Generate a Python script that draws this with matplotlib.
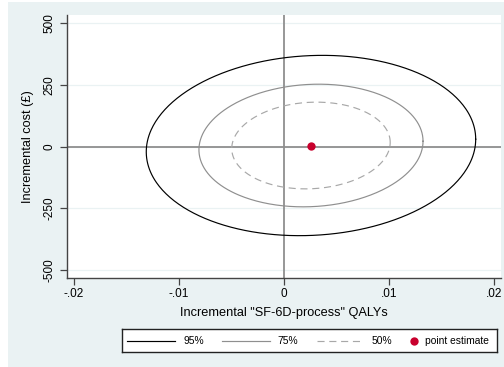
import numpy as np
import matplotlib
matplotlib.use("Agg")
import matplotlib.pyplot as plt
from matplotlib.patches import Rectangle

plt.rcParams['font.family'] = ['Liberation Sans', 'DejaVu Sans']

# bootstrap joint distribution of incremental QALYs and costs
mean_qaly = 0.00257
mean_cost = 4.0
sd_qaly = 0.00641
sd_cost = 149.0
rho = 0.07

levels = [0.95, 0.75, 0.50]
level_labels = ["95%", "75%", "50%"]
level_colors = ["black", "#8f8f8f", "#a8a8a8"]
level_styles = ["-", "-", (0, (6, 4))]

xticks = [-0.02, -0.01, 0, 0.01, 0.02]
xtick_labels = ["-.02", "-.01", "0", ".01", ".02"]
yticks = [-500, -250, 0, 250, 500]

BG = "#eaf2f3"
W, H = 504, 367

fig = plt.figure(figsize=(W / 100, H / 100), dpi=100)
fig.patch.set_facecolor("white")
fig.patches.append(Rectangle((8 / W, 0), 1, (H - 2) / H, transform=fig.transFigure,
                             facecolor=BG, edgecolor="none", zorder=-10))

ax = fig.add_axes([67 / W, (H - 278) / H, (501 - 67) / W, (278 - 15) / H])
ax.set_facecolor("white")

# confidence ellipses from the covariance matrix, radius from chi2(2) quantile
cov = np.array([[sd_qaly ** 2, rho * sd_qaly * sd_cost],
                [rho * sd_qaly * sd_cost, sd_cost ** 2]])
L = np.linalg.cholesky(cov)
t = np.linspace(0, 2 * np.pi, 400)
circle = np.vstack([np.cos(t), np.sin(t)])

for p, lab, col, ls in zip(levels, level_labels, level_colors, level_styles):
    r = np.sqrt(-2 * np.log(1 - p))
    pts = L @ (circle * r)
    ax.plot(mean_qaly + pts[0], mean_cost + pts[1], color=col, ls=ls, lw=0.85, zorder=3)

ax.axhline(0, color="#8f8f8f", lw=1.3, zorder=2)
ax.axvline(0, color="#8f8f8f", lw=1.3, zorder=2)
ax.plot([mean_qaly], [mean_cost], "o", color="#c8002d", ms=6, mec="none", zorder=4)

ax.set_xlim(-0.02067, 0.02067)
ax.set_ylim(-532, 532)
ax.set_xticks(xticks)
ax.set_xticklabels(xtick_labels)
ax.set_yticks(yticks)
ax.set_yticklabels([str(v) for v in yticks], rotation=90, va="center")
ax.grid(axis="y", color=BG, lw=0.9)
ax.set_axisbelow(True)

for s in ["top", "right"]:
    ax.spines[s].set_visible(False)
for s in ["left", "bottom"]:
    ax.spines[s].set_color("#444444")
    ax.spines[s].set_linewidth(1.0)
ax.tick_params(direction="out", length=5, width=0.9, color="#444444",
               labelsize=8.5, pad=2)
ax.tick_params(axis="y", pad=3)

ax.set_xlabel('Incremental "SF-6D-process" QALYs', fontsize=9.2, labelpad=5)
ax.set_ylabel("Incremental cost (£)", fontsize=9.2, labelpad=7)

# legend box along the bottom
lx0, lx1, ly0, ly1 = 122, 497, 329, 352
lax = fig.add_axes([lx0 / W, (H - ly1) / H, (lx1 - lx0) / W, (ly1 - ly0) / H])
lax.set_xlim(0, lx1 - lx0)
lax.set_ylim(0, ly1 - ly0)
lax.set_xticks([])
lax.set_yticks([])
lax.set_facecolor("white")
for s in lax.spines.values():
    s.set_color("#222222")
    s.set_linewidth(1.0)
yc = (ly1 - ly0) / 2
line_spans = [(5, 53, 61), (100, 148, 155), (195, 242, 250)]
for (a, b, tx), lab, col, ls in zip(line_spans, level_labels, level_colors, level_styles):
    lax.plot([a, b], [yc, yc], color=col, ls=ls, lw=0.85)
    lax.text(tx, yc, lab, fontsize=7.4, va="center", ha="left")
lax.plot([292], [yc], "o", color="#c8002d", ms=6, mec="none")
lax.text(303, yc, "point estimate", fontsize=7.4, va="center", ha="left")

fig.savefig("out.png", dpi=100, facecolor=fig.get_facecolor())
